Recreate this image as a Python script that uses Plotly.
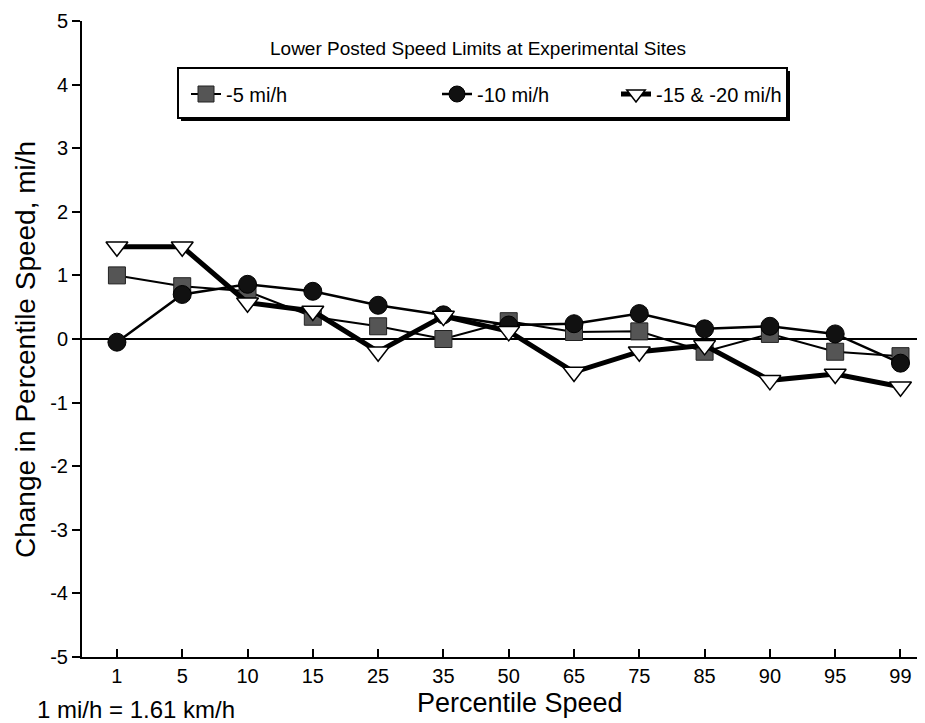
import plotly.graph_objects as go

categories = ["1", "5", "10", "15", "25", "35", "50", "65", "75", "85", "90", "95", "99"]
minus5 = [1.0, 0.83, 0.75, 0.35, 0.2, 0.0, 0.28, 0.11, 0.12, -0.2, 0.08, -0.2, -0.27]
minus10 = [-0.05, 0.7, 0.86, 0.75, 0.53, 0.38, 0.22, 0.24, 0.4, 0.16, 0.2, 0.08, -0.38]
minus15_20 = [1.45, 1.45, 0.57, 0.44, -0.2, 0.36, 0.12, -0.52, -0.2, -0.1, -0.65, -0.55, -0.75]
y_ticks = [-5, -4, -3, -2, -1, 0, 1, 2, 3, 4, 5]
y_tick_text = ["-5", "-4", "-3", "-2", "-1", "0", "1", "2", "3", "4", "5"]

FONT = "Liberation Sans, Arial, sans-serif"
OFF = 8  # page body margin
W, H = 917, 715
L, R, T, B = 74, 1, 13, 66
pw, ph = W - L - R, H - T - B

def px(x):
    return (x - OFF - L) / pw

def py(y):
    return (H - B - (y - OFF)) / ph

fig = go.Figure()
fig.add_trace(go.Scatter(
    x=categories, y=minus5, name="-5 mi/h", mode="lines+markers",
    line=dict(color="black", width=2),
    marker=dict(symbol="square", size=17, color="#555555", line=dict(color="#222222", width=1)),
    legend="legend"))
fig.add_trace(go.Scatter(
    x=categories, y=minus10, name="-10 mi/h", mode="lines+markers",
    line=dict(color="black", width=2.5),
    marker=dict(symbol="circle", size=18, color="#111111", line=dict(color="black", width=1)),
    legend="legend2"))
fig.add_trace(go.Scatter(
    x=categories, y=minus15_20, name="-15 & -20 mi/h", mode="lines+markers",
    line=dict(color="black", width=5),
    marker=dict(symbol="triangle-down", size=19, color="white", line=dict(color="black", width=1.5)),
    legend="legend3"))

legend_common = dict(orientation="h", yanchor="middle", xanchor="left",
                     bgcolor="rgba(0,0,0,0)", borderwidth=0,
                     font=dict(family=FONT, size=20, color="black"))

fig.update_layout(
    width=W, height=H,
    margin=dict(l=L, r=R, t=T, b=B, autoexpand=False),
    paper_bgcolor="white", plot_bgcolor="white",
    font=dict(family=FONT, color="black"),
    showlegend=True,
    legend=dict(x=px(186), y=py(94), **legend_common),
    legend2=dict(x=px(437), y=py(94), **legend_common),
    legend3=dict(x=px(616), y=py(94), **legend_common),
    xaxis=dict(
        type="category", range=[-0.535, 12.36],
        showline=True, linecolor="black", linewidth=2,
        ticks="inside", ticklen=8, tickwidth=1.5, tickcolor="black",
        tickfont=dict(family=FONT, size=20),
        showgrid=False, zeroline=False,
        title=dict(text=""),
    ),
    yaxis=dict(
        range=[-5, 5], tickvals=y_ticks, ticktext=y_tick_text,
        showline=True, linecolor="black", linewidth=2,
        ticks="outside", ticklen=8, tickwidth=1.5, tickcolor="black",
        tickfont=dict(family=FONT, size=20),
        showgrid=False,
        zeroline=True, zerolinecolor="black", zerolinewidth=2,
        title=dict(text=""),
    ),
    yaxis2=dict(
        range=[-5, 5], tickvals=y_ticks, overlaying="y", side="left", anchor="x",
        showline=False, ticks="inside", ticklen=8, tickwidth=1.5, tickcolor="black",
        showticklabels=False, showgrid=False, zeroline=False,
    ),
    shapes=[
        dict(type="rect", xref="paper", yref="paper",
             x0=px(181), x1=px(790), y0=py(121), y1=py(71),
             fillcolor="black", line=dict(width=0), layer="below"),
        dict(type="rect", xref="paper", yref="paper",
             x0=px(178), x1=px(787), y0=py(118), y1=py(68),
             fillcolor="white", line=dict(color="black", width=2), layer="below"),
    ],
    annotations=[
        dict(text="Lower Posted Speed Limits at Experimental Sites", xref="paper", yref="paper",
             x=px(478), y=py(48), xanchor="center", yanchor="middle", showarrow=False,
             font=dict(family=FONT, size=19)),
        dict(text="Change in Percentile Speed, mi/h", xref="paper", yref="paper",
             x=px(25), y=py(350), xanchor="center", yanchor="middle", showarrow=False,
             textangle=-90, font=dict(family=FONT, size=28)),
        dict(text="Percentile Speed", xref="paper", yref="paper",
             x=px(520), y=py(703), xanchor="center", yanchor="middle", showarrow=False,
             font=dict(family=FONT, size=27)),
        dict(text="1 mi/h = 1.61 km/h", xref="paper", yref="paper",
             x=px(136), y=py(709), xanchor="center", yanchor="middle", showarrow=False,
             font=dict(family=FONT, size=24)),
    ],
)

fig.write_html("out.html")
